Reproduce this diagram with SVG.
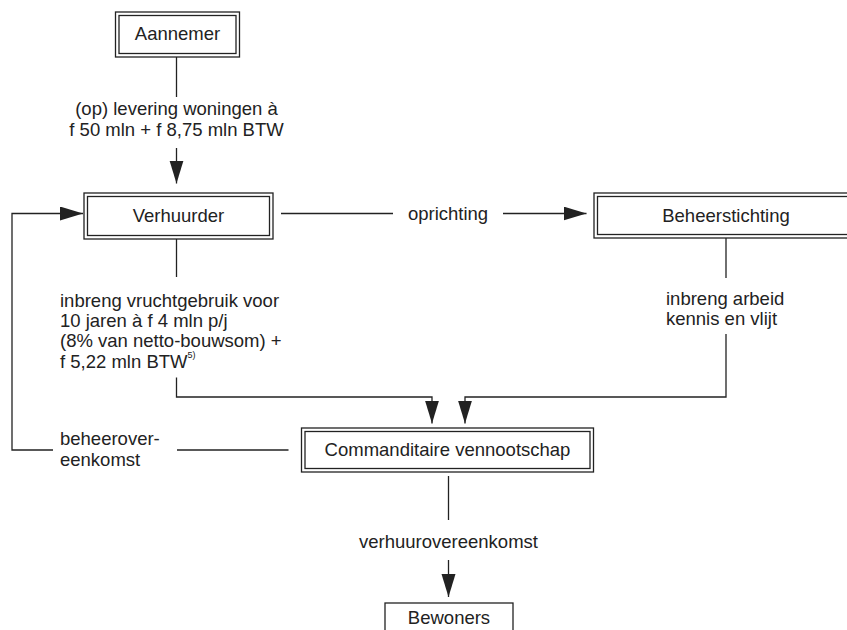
<svg xmlns="http://www.w3.org/2000/svg" width="847" height="630" viewBox="0 0 847 630">
<style>
text{font-family:"Liberation Sans",Arial,sans-serif;font-size:18.5px;fill:#222}
.c{text-anchor:middle}
.box{fill:#fff;stroke:#222;stroke-width:1.3}
.ln{fill:none;stroke:#222;stroke-width:1.3}
.sup{font-size:9px}
</style>
<defs>
<marker id="ah" markerUnits="userSpaceOnUse" markerWidth="24" markerHeight="15" refX="23" refY="7" orient="auto">
<path d="M0,0 L23,7 L0,14 z" fill="#222"/>
</marker>
</defs>
<rect width="847" height="630" fill="#fff"/>
<g id="connectors">
<line class="ln" x1="176.5" y1="57" x2="176.5" y2="97"/>
<line class="ln" x1="176.5" y1="148" x2="176.5" y2="183.5" marker-end="url(#ah)"/>
<line class="ln" x1="281" y1="213.5" x2="393" y2="213.5"/>
<line class="ln" x1="503" y1="213.5" x2="586.5" y2="213.5" marker-end="url(#ah)"/>
<line class="ln" x1="176.5" y1="239" x2="176.5" y2="277"/>
<polyline class="ln" points="176.5,377.5 176.5,397 432,397 432,423.5" marker-end="url(#ah)"/>
<line class="ln" x1="726" y1="238" x2="726" y2="278"/>
<polyline class="ln" points="726,334 726,397 465,397 465,423.5" marker-end="url(#ah)"/>
<line class="ln" x1="177" y1="450" x2="288.5" y2="450"/>
<polyline class="ln" points="53,450 12,450 12,213.5 83,213.5" marker-end="url(#ah)"/>
<line class="ln" x1="448.5" y1="476" x2="448.5" y2="520"/>
<line class="ln" x1="448.5" y1="560" x2="448.5" y2="597" marker-end="url(#ah)"/>
<text class="c" x="176.5" y="115">(op) levering woningen à</text>
<text class="c" x="176.5" y="136">f 50 mln + f 8,75 mln BTW</text>
<text class="c" x="448" y="219.5">oprichting</text>
<text x="60" y="306.5">inbreng vruchtgebruik voor</text>
<text x="60" y="327">10 jaren à f 4 mln p/j</text>
<text x="60" y="347">(8% van netto-bouwsom) +</text>
<text x="60" y="367.5">f 5,22 mln BTW<tspan class="sup" dy="-9.5">5)</tspan></text>
<text x="666" y="305">inbreng arbeid</text>
<text x="666" y="325">kennis en vlijt</text>
<text x="60" y="445">beheerover-</text>
<text x="60" y="465.5">eenkomst</text>
<text class="c" x="448.5" y="548">verhuurovereenkomst</text>
</g>
<g id="aannemer">
<rect class="box" x="115.5" y="12" width="124" height="45"/>
<rect class="box" x="119" y="15.5" width="117" height="38"/>
<text class="c" x="177.5" y="39.5">Aannemer</text>
</g>
<g id="verhuurder">
<rect class="box" x="84" y="193" width="189" height="46"/>
<rect class="box" x="87.5" y="196.5" width="182" height="39"/>
<text class="c" x="178.5" y="222">Verhuurder</text>
</g>
<g id="beheerstichting">
<rect class="box" x="594" y="193" width="270" height="45"/>
<rect class="box" x="597.5" y="196.5" width="263" height="38"/>
<text class="c" x="726" y="222">Beheerstichting</text>
</g>
<g id="cv">
<rect class="box" x="301.5" y="428" width="292" height="44"/>
<rect class="box" x="305" y="431.5" width="285" height="37"/>
<text class="c" x="447.5" y="455.5">Commanditaire vennootschap</text>
</g>
<g id="bewoners">
<rect class="box" x="385" y="603" width="128" height="40"/>
<text class="c" x="449" y="623.5">Bewoners</text>
</g>
</svg>
